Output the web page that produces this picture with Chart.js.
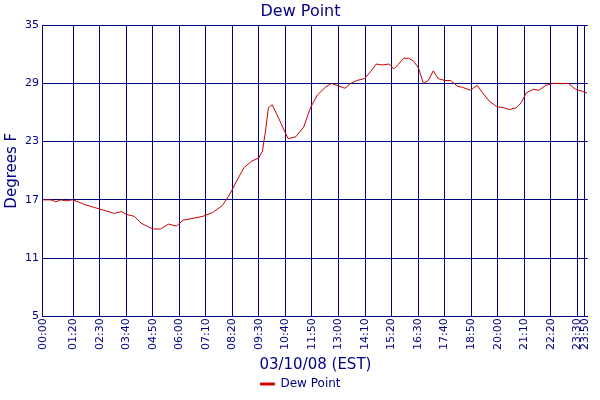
<!DOCTYPE html>
<html>
<head>
<script src="https://cdn.jsdelivr.net/npm/chart.js@4"></script>
<style>body{margin:0;background:#fff}#wrap{width:600px;height:400px}</style>
</head>
<body>
<div id="wrap"><canvas id="c"></canvas></div>
<script>
const minutes = [0,21,34,47,60,78,93,111,137,163,189,207,220,241,259,279,292,310,331,352,370,396,422,448,473,492,512,530,551,569,579,587,595,605,621,636,647,667,688,706,724,745,761,776,797,812,828,849,864,880,895,913,926,939,952,965,978,991,1004,1017,1030,1043,1061,1076,1094,1107,1128,1146,1159,1177,1198,1216,1231,1249,1262,1275,1294,1309,1327,1345,1366,1387,1405,1423,1436];
const dewPoint = [17.0,17.0,16.8,17.0,16.9,17.0,16.8,16.5,16.2,15.9,15.6,15.8,15.5,15.3,14.6,14.2,14.0,14.0,14.5,14.3,14.9,15.1,15.3,15.7,16.4,17.5,19.0,20.3,21.0,21.3,22.0,24.0,26.5,26.8,25.5,24.2,23.3,23.5,24.5,26.5,27.8,28.6,29.0,28.8,28.5,29.0,29.3,29.5,30.2,31.0,30.9,31.0,30.5,31.0,31.6,31.6,31.3,30.6,29.0,29.3,30.3,29.5,29.3,29.3,28.7,28.6,28.3,28.8,28.1,27.2,26.6,26.5,26.3,26.5,27.0,28.0,28.4,28.3,28.8,29.0,29.0,29.0,28.4,28.2,28.0];
const xTicks = [0,80,150,220,290,360,430,500,570,640,710,780,850,920,990,1060,1130,1200,1270,1340,1410,1430];
const yTicks = [5,11,17,23,29,35];
const navy = '#000080';
const fmt = m => String(Math.floor(m/60)).padStart(2,'0') + ':' + String(m%60).padStart(2,'0');
const font = {family:'DejaVu Sans', size:11};

new Chart(document.getElementById('c'), {
  type: 'line',
  data: { datasets: [{ label:'Dew Point', data: minutes.map((m,i)=>({x:m,y:dewPoint[i]})),
    borderColor:'#cc0000', backgroundColor:'#cc0000', borderWidth:1, pointRadius:0, tension:0 }] },
  options: {
    responsive:true, maintainAspectRatio:false, animation:false,
    layout:{padding:{right:2, left:3}},
    plugins:{
      title:{display:true, text:'Dew Point', color:navy, font:{family:'DejaVu Sans', size:16, weight:'normal'}, padding:{top:2,bottom:4}},
      legend:{position:'bottom', labels:{color:navy, font:{family:'DejaVu Sans', size:12}, boxWidth:14, boxHeight:2, padding:4}},
      tooltip:{enabled:false}
    },
    scales:{
      x:{type:'linear', min:0, max:1438,
        afterBuildTicks: s => { s.ticks = xTicks.map(v=>({value:v})); },
        ticks:{color:navy, font, maxRotation:90, minRotation:90, autoSkip:false, callback:v=>fmt(v), padding:2},
        grid:{color:navy, drawTicks:false},
        border:{color:navy},
        title:{display:true, text:'03/10/08 (EST)', color:navy, font:{family:'DejaVu Sans', size:15}, padding:{top:4,bottom:0}}
      },
      y:{min:5, max:35,
        afterBuildTicks: s => { s.ticks = yTicks.map(v=>({value:v})); },
        ticks:{color:navy, font, padding:4},
        grid:{color:navy, drawTicks:false},
        border:{color:navy},
        title:{display:true, text:'Degrees F', color:navy, font:{family:'DejaVu Sans', size:15}, padding:0}
      }
    }
  }
});
</script>
</body>
</html>
